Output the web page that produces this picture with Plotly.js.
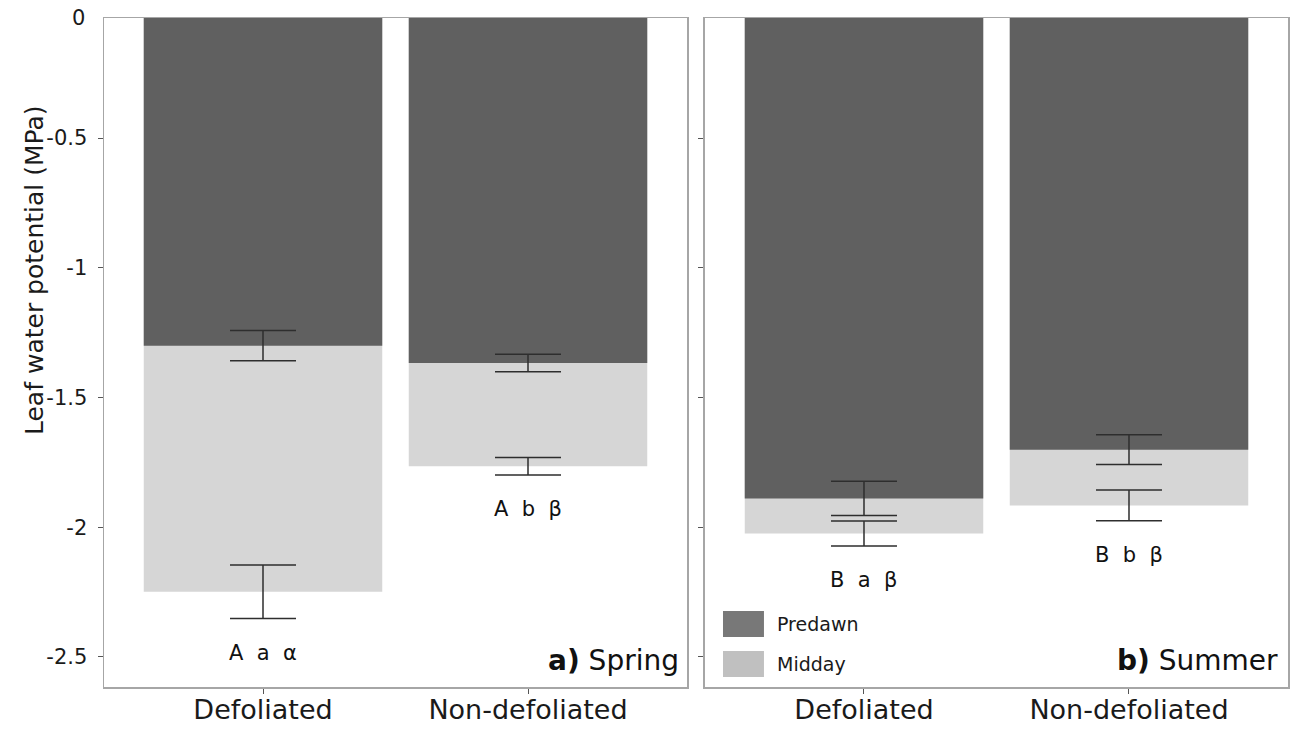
<!DOCTYPE html>
<html>
<head>
<meta charset="utf-8">
<script src="https://cdn.plot.ly/plotly-3.0.1.min.js"></script>
<style>
  html, body { margin: 0; padding: 0; background: #ffffff; }
  #chart { width: 1296px; height: 731px; }
</style>
</head>
<body>
<div id="chart"></div>
<script>
// Leaf water potential (MPa), mean ± SE, per treatment and season
const treatments = ['Defoliated', 'Non-defoliated'];

const springPredawn    = [-1.300, -1.367];
const springPredawnErr = [0.058, 0.034];
const springMidday     = [-2.249, -1.765];
const springMiddayErr  = [0.103, 0.034];
const springLetters    = ['A  a  α', 'A  b  β'];

const summerPredawn    = [-1.889, -1.701];
const summerPredawnErr = [0.066, 0.057];
const summerMidday     = [-2.024, -1.916];
const summerMiddayErr  = [0.048, 0.059];
const summerLetters    = ['B  a  β', 'B  b  β'];

const yTickVals = [-0.5, -1, -1.5, -2, -2.5];
const yTickText = ['-0.5', '-1', '-1.5', '-2', '-2.5'];

const DARK = '#606060';
const LIGHT = '#d6d6d6';
const ERR = '#2e2e2e';
const FRAME = '#a6a6a6';

function barTrace(values, errs, color, xa, ya, name) {
  return {
    type: 'bar', x: treatments, y: values, name: name,
    xaxis: xa, yaxis: ya, width: 0.9,
    marker: { color: color, line: { width: 0 } },
    error_y: { type: 'data', array: errs, visible: true, color: ERR, thickness: 1.5, width: 33 },
    showlegend: false, hoverinfo: 'x+y'
  };
}

// Midday bars are drawn first so the shallower predawn bars sit on top
const data = [
  barTrace(springMidday, springMiddayErr, LIGHT, 'x', 'y', 'Midday'),
  barTrace(springPredawn, springPredawnErr, DARK, 'x', 'y', 'Predawn'),
  barTrace(summerMidday, summerMiddayErr, LIGHT, 'x2', 'y2', 'Midday'),
  barTrace(summerPredawn, summerPredawnErr, DARK, 'x2', 'y2', 'Predawn')
];

const yRange = [-2.616, -0.037];
const tickFont = { family: '"DejaVu Sans", sans-serif', size: 21, color: '#1a1a1a' };
const catFont = { family: '"DejaVu Sans", sans-serif', size: 27, color: '#1a1a1a' };

const xCommon = {
  type: 'category', range: [-0.6, 1.6], showgrid: false, zeroline: false,
  showline: true, linecolor: FRAME, linewidth: 1.5, mirror: true,
  ticks: 'outside', ticklen: 5, tickcolor: '#555', tickwidth: 1,
  tickfont: catFont, ticklabelstandoff: -7, fixedrange: true
};
const yCommon = {
  range: yRange, showgrid: false, zeroline: false,
  showline: true, linecolor: FRAME, linewidth: 1.5, mirror: true,
  ticks: 'outside', ticklen: 5, tickcolor: '#555', tickwidth: 1,
  tickvals: yTickVals, ticktext: yTickText, tickfont: tickFont,
  ticklabelstandoff: 6, fixedrange: true
};

// Letter labels placed under the lower end of each midday error bar
const annotations = [];
function letterNotes(letters, midday, middayErr, xa, ya) {
  letters.forEach((txt, i) => {
    annotations.push({
      xref: xa, yref: ya, x: treatments[i], y: midday[i] - middayErr[i],
      text: txt.replace(/ /g, '\u00a0'), showarrow: false, yanchor: 'middle', yshift: -34,
      font: { family: '"DejaVu Sans", sans-serif', size: 21, color: '#111' }
    });
  });
}
letterNotes(springLetters, springMidday, springMiddayErr, 'x', 'y');
letterNotes(summerLetters, summerMidday, summerMiddayErr, 'x2', 'y2');

// Top tick label of the shared value axis
annotations.push({
  xref: 'paper', yref: 'paper', x: 0, y: 1, xanchor: 'right', yanchor: 'middle',
  xshift: -17, text: '0', showarrow: false, font: tickFont
});

// Axis title
annotations.push({
  xref: 'paper', yref: 'paper', x: 0, y: 0.5, xshift: -86, yshift: 82,
  textangle: -90, text: 'Leaf water potential (MPa)', showarrow: false,
  font: { family: '"DejaVu Sans", sans-serif', size: 25, color: '#1a1a1a' }
});

// Panel labels
const panelFont = { family: '"DejaVu Sans", sans-serif', size: 28, color: '#111' };
annotations.push({
  xref: 'x domain', yref: 'y domain', x: 1, y: 0.04, xanchor: 'right', yanchor: 'middle',
  xshift: -6, text: '<b>a)</b> Spring', showarrow: false, font: panelFont
});
annotations.push({
  xref: 'x2 domain', yref: 'y2 domain', x: 1, y: 0.04, xanchor: 'right', yanchor: 'middle',
  xshift: -8, text: '<b>b)</b> Summer', showarrow: false, font: panelFont
});

// Legend swatches and labels inside the summer panel
const legendItems = [
  { label: 'Predawn', color: '#787878', y0: 0.0747, y1: 0.1136 },
  { label: 'Midday', color: '#c0c0c0', y0: 0.0150, y1: 0.0538 }
];
const shapes = [];
legendItems.forEach(item => {
  shapes.push({
    type: 'rect', xref: 'paper', yref: 'paper', x0: 0.5228, x1: 0.5574,
    y0: item.y0, y1: item.y1, fillcolor: item.color, line: { width: 0 }
  });
  annotations.push({
    xref: 'paper', yref: 'paper', x: 0.5667, y: (item.y0 + item.y1) / 2,
    xanchor: 'left', yanchor: 'middle', text: item.label, showarrow: false,
    font: { family: '"DejaVu Sans", sans-serif', size: 19, color: '#1a1a1a' }
  });
});

const layout = {
  width: 1296, height: 731,
  margin: { l: 104, r: 8, t: 18, b: 44 },
  paper_bgcolor: '#ffffff', plot_bgcolor: '#ffffff',
  barmode: 'overlay', showlegend: false,
  xaxis: Object.assign({}, xCommon, { domain: [0, 0.4924], anchor: 'y' }),
  yaxis: Object.assign({}, yCommon, { anchor: 'x' }),
  xaxis2: Object.assign({}, xCommon, { domain: [0.5076, 1], anchor: 'y2' }),
  yaxis2: Object.assign({}, yCommon, { anchor: 'x2', showticklabels: false }),
  annotations: annotations,
  shapes: shapes
};

Plotly.newPlot('chart', data, layout, { displayModeBar: false, staticPlot: true });
</script>
</body>
</html>
